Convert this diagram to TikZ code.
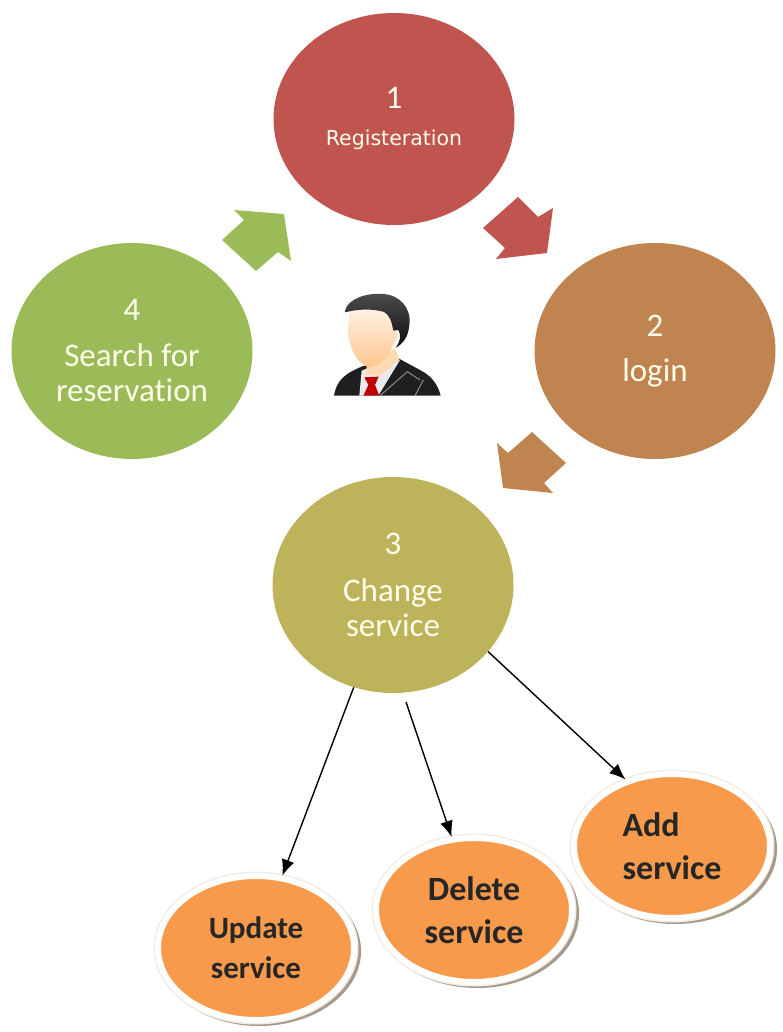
\documentclass[tikz,border=0pt]{standalone}
\usepackage{fontspec}
\setmainfont{Carlito}[Ligatures=NoCommon]
\newfontfamily\regfont{DejaVu Sans}
\usetikzlibrary{shapes.geometric, shadows, arrows.meta}
\definecolor{regred}{HTML}{C0544F}
\definecolor{loginbrown}{HTML}{C08450}
\definecolor{changeolive}{HTML}{BDB35B}
\definecolor{searchgreen}{HTML}{9BBB59}
\definecolor{suborange}{HTML}{F79A4B}
\definecolor{subshadow}{HTML}{A89A8A}
\definecolor{subedge}{HTML}{F3ECE4}
\tikzset{stage/.style={ellipse, inner sep=0pt, minimum width=241pt, minimum height=216pt, text=white!92!yellow, align=center, font=\fontsize{33}{35}\selectfont},
	subtask/.style={ellipse, inner sep=0pt, minimum width=196pt, minimum height=144pt, fill=suborange, draw=white, line width=6pt, text=black!85, font=\fontsize{34}{43}\selectfont\bfseries, drop shadow={shadow scale=1.04, shadow xshift=3pt, shadow yshift=-3pt, fill=subshadow, opacity=1}, preaction={draw=subedge, line width=9pt}},
	flow/.style={draw=none},
	subarrow/.style={draw, -{Latex[length=16pt,width=13pt]}, line width=1.4pt}}
\begin{document}
\begin{tikzpicture}[x=1pt,y=-1pt]
	\useasboundingbox (0,0) rectangle (782,1032);

	\node[stage, fill=regred, minimum height=212pt] (c1) at (394,119) {1\\[2pt]{\regfont\fontsize{20.5}{24}\selectfont Registeration}};
	\node[stage, fill=loginbrown] (c2) at (655,351) {2\\[10pt]login};
	\node[stage, fill=changeolive] (c3) at (393,585) {3\\[12pt]Change\\service};
	\node[stage, fill=searchgreen] (c4) at (132,351) {4\\[11pt]Search for\\reservation};

	\node[subtask, align=center, font=\fontsize{31}{40}\selectfont\bfseries] (update) at (256,948) {Update\\service};
	\node[subtask, align=center] (delete) at (474,910) {Delete\\service};
	\node[subtask, align=left] (add) at (672,846) {Add\\service};

	\fill[regred, flow] (483,228) -- (518,197) -- (538,217) -- (553,208) -- (547,253) -- (496,259) -- (505,248) -- cycle;
	\fill[loginbrown, flow] (532,432) -- (566,463) -- (544,483) -- (553,493) -- (503,488) -- (497,443) -- (508,453) -- cycle;
	\fill[searchgreen, flow] (222,240) -- (256,271) -- (278,252) -- (291,261) -- (284,214) -- (234,210) -- (244,220) -- cycle;

	\coordinate (c3del) at (406,702);
	\draw[subarrow] (c3.249) -- (update.70);
	\draw[subarrow] (c3del) -- (delete.107);
	\draw[subarrow] (c3.-35) -- (add.125);

	\begin{scope}[shift={(320,280)},x=0.3333pt,y=-0.3333pt]
		\fill[black!88] (42,347) .. controls (50,300) and (75,280) .. (130,258) -- (235,235) -- (300,270) .. controls (340,290) and (355,320) .. (362,347) -- cycle;
		\fill[white!92!black] (125,272) -- (150,262) -- (240,240) -- (175,347) -- (118,347) -- cycle;
		\fill[orange!30!white] (140,262) -- (225,205) -- (238,238) -- (180,288) -- (135,285) -- cycle;
		\fill[red!75!black] (133,292) -- (176,290) -- (165,315) -- (178,347) -- (130,347) -- (145,315) -- cycle;
		\draw[black!45, line width=1pt] (180,347) -- (262,275) -- (300,300) (285,347) -- (310,300);
		\shade[top color=orange!12!white, bottom color=orange!45!white] (88,92) -- (215,90) -- (225,140) -- (235,165) -- (215,205) .. controls (200,240) and (165,265) .. (145,262) .. controls (110,250) and (85,200) .. (85,150) -- cycle;
		\shade[top color=black!70, bottom color=black!95] (75,92) .. controls (85,55) and (140,38) .. (190,42) .. controls (240,45) and (275,85) .. (268,135) .. controls (265,170) and (250,190) .. (228,203) .. controls (240,185) and (245,165) .. (235,150) -- (220,152) .. controls (215,125) and (210,105) .. (190,95) .. controls (150,85) and (110,88) .. (75,97) -- cycle;
	\end{scope}
\end{tikzpicture}
\end{document}
